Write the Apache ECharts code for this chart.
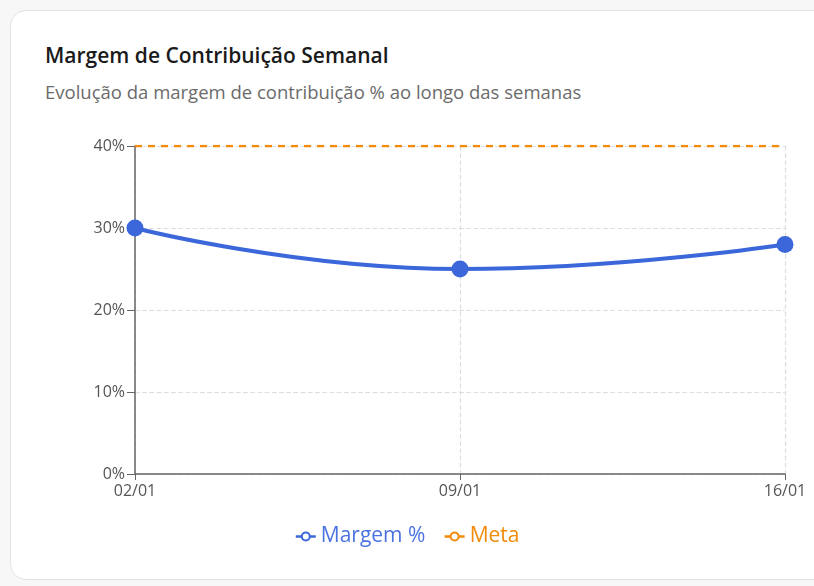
<!DOCTYPE html>
<html>
<head>
<meta charset="utf-8">
<script src="https://cdn.jsdelivr.net/npm/echarts@6/dist/echarts.min.js"></script>
<style>
  html, body { margin: 0; padding: 0; background: #f7f7f8; width: 814px; height: 586px; overflow: hidden; font-family: "Open Sans", "Noto Sans", sans-serif; }
  .card {
    position: absolute; left: 10px; top: 10px; width: 840px; height: 568px;
    background: #fff; border: 1px solid #e3e3e6; border-radius: 16px;
  }
  .title { position: absolute; left: 45px; top: 41px; font-size: 21px; font-weight: 600; color: #1a1a1a; }
  .subtitle { position: absolute; left: 45px; top: 79px; font-size: 18.5px; color: #6b6b6b; }
  #chart { position: absolute; left: 0; top: 0; width: 814px; height: 586px; }
</style>
</head>
<body>
<div class="card"></div>
<div class="title">Margem de Contribuição Semanal</div>
<div class="subtitle">Evolução da margem de contribuição % ao longo das semanas</div>
<div id="chart"></div>
<script>
const semanas = ['02/01', '09/01', '16/01']
const margem = [30, 25, 28]
const meta = [40, 40, 40]

const azul = '#3b67db'
const laranja = '#f28a0a'

const chart = echarts.init(document.getElementById('chart'))

const option = {
  textStyle: { fontFamily: '"Open Sans", "Noto Sans", sans-serif' },
  grid: { left: 135, right: 29, top: 146, bottom: 112 },
  legend: {
    top: 521,
    left: 'center',
    itemGap: 18,
    itemWidth: 20,
    itemHeight: 10,
    textStyle: { fontSize: 21 },
    data: [
      {
        name: 'Margem %',
        textStyle: { color: '#4a72e0' },
        itemStyle: { color: '#fff', borderColor: azul, borderWidth: 2 },
        lineStyle: { width: 2.5, type: 'solid', color: azul }
      },
      {
        name: 'Meta',
        textStyle: { color: laranja },
        itemStyle: { color: '#fff', borderColor: laranja, borderWidth: 2 },
        lineStyle: { width: 2.5, type: 'solid', color: laranja }
      }
    ]
  },
  xAxis: {
    type: 'category',
    data: semanas,
    boundaryGap: false,
    axisLine: { lineStyle: { color: '#666', width: 1.5 } },
    axisTick: { show: true, length: 6, lineStyle: { color: '#666' } },
    axisLabel: { color: '#555', fontSize: 16, margin: 9 },
    splitLine: { show: true, lineStyle: { type: 'dashed', color: '#ddd', width: 1.2 } }
  },
  yAxis: {
    type: 'value',
    min: 0,
    max: 40,
    interval: 10,
    axisLine: { show: true, lineStyle: { color: '#666', width: 1.5 } },
    axisTick: { show: true, length: 8, lineStyle: { color: '#666' } },
    axisLabel: { color: '#555', fontSize: 16, margin: 10, formatter: '{value}%' },
    splitLine: { show: true, lineStyle: { type: 'dashed', color: '#ddd', width: 1.2 } }
  },
  series: [
    {
      name: 'Margem %',
      type: 'line',
      data: margem,
      smooth: true,
      symbol: 'circle',
      symbolSize: 17,
      itemStyle: { color: azul },
      lineStyle: { width: 4, color: azul },
      z: 3
    },
    {
      name: 'Meta',
      type: 'line',
      data: meta,
      symbol: 'circle',
      showSymbol: false,
      itemStyle: { color: laranja },
      lineStyle: { width: 2.5, type: [7, 6], color: laranja },
      z: 2
    }
  ]
}

chart.setOption(option)
</script>
</body>
</html>
